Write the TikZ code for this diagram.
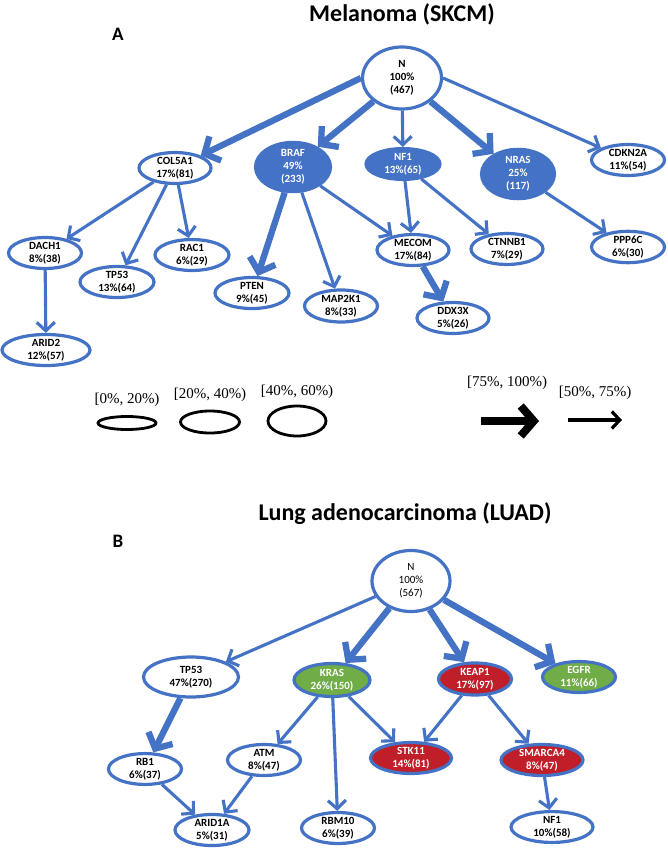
\documentclass[tikz,border=0pt]{standalone}
\usepackage{fontspec}
\setmainfont{Carlito}
\newfontfamily\legfont{Liberation Serif}
\usetikzlibrary{shapes.geometric,arrows.meta}
\definecolor{ablue}{RGB}{68,114,196}
\definecolor{agreen}{RGB}{112,173,71}
\definecolor{ared}{RGB}{192,30,40}
\tikzset{
  gn/.style={ellipse, draw=ablue, line width=3.2pt, inner sep=0pt, align=center,
    font=\bfseries\fontsize{11}{13}\selectfont, text=black, fill=white},
  fb/.style={fill=ablue, text=white},
  fg/.style={fill=agreen, text=white},
  fr/.style={fill=ared, text=white},
  sz/.style 2 args={minimum width=#1pt, minimum height=#2pt},
  tarr/.style={draw=ablue, line width=3.1pt, -{Straight Barb[length=8.5pt,width=18pt]}},
  karr/.style={draw=ablue, line width=6.3pt, -{Straight Barb[length=12pt,width=27pt]}},
  legell/.style={ellipse, draw=black, line width=2.8pt, inner sep=0pt},
  legtxt/.style={font=\legfont\fontsize{15}{17}\selectfont},
  ttl/.style={font=\bfseries\fontsize{24}{28}\selectfont},
  lbl/.style={font=\bfseries\fontsize{19}{22}\selectfont}
}
\begin{document}
\begin{tikzpicture}[x=1pt,y=-1pt]
\useasboundingbox (0,0) rectangle (667,848);
% ---------- Panel A ----------
\node[ttl] (titleA) at (402,14) {Melanoma (SKCM)};
\node[lbl] (labA) at (118,34) {A};

\node[gn, sz={79}{62}] (aN) at (402,78) {N\\100\%\\(467)};
\node[gn, sz={72}{30}] (aCOL) at (175,168) {COL5A1\\17\%(81)};
\node[gn, fb, sz={75}{44}] (aBRAF) at (293,167) {BRAF\\49\%\\(233)};
\node[gn, fb, sz={74}{29}] (aNF1) at (403,164) {NF1\\13\%(65)};
\node[gn, fb, sz={73}{45}] (aNRAS) at (518,174) {NRAS\\25\%\\(117)};
\node[gn, sz={73}{27}] (aCDK) at (628,160) {CDKN2A\\11\%(54)};
\node[gn, sz={73}{30}] (aDACH) at (45,253) {DACH1\\8\%(38)};
\node[gn, sz={74}{31}] (aTP53) at (117,282) {TP53\\13\%(64)};
\node[gn, sz={74}{30}] (aRAC) at (192,255) {RAC1\\6\%(29)};
\node[gn, sz={74}{31}] (aPTEN) at (252,293) {PTEN\\9\%(45)};
\node[gn, sz={73}{32}] (aMAP) at (341,306) {MAP2K1\\8\%(33)};
\node[gn, sz={72}{27}] (aMEC) at (413,250) {MECOM\\17\%(84)};
\node[gn, sz={72}{29}] (aCTN) at (507,249) {CTNNB1\\7\%(29)};
\node[gn, sz={73}{30}] (aPPP) at (628,247) {PPP6C\\6\%(30)};
\node[gn, sz={72}{30}] (aDDX) at (453,318) {DDX3X\\5\%(26)};
\node[gn, sz={88}{31}] (aARID) at (46,350) {ARID2\\12\%(57)};

\draw[karr] (aN.west) -- (aCOL);
\draw[karr] (aN) -- (aBRAF);
\draw[tarr] (aN) -- (aNF1);
\draw[karr] (aN) -- (aNRAS);
\draw[tarr] (aN.east) -- (aCDK);
\draw[tarr] (aCOL) -- (aDACH);
\draw[tarr] (aCOL) -- (aTP53);
\draw[tarr] (aCOL) -- (aRAC);
\draw[karr] (aBRAF) -- (aPTEN);
\draw[tarr] (aBRAF) -- (aMAP);
\draw[tarr] (aBRAF) -- (aMEC);
\draw[tarr] (aNF1) -- (aMEC);
\draw[tarr] (aNF1) -- (aCTN);
\draw[tarr] (aNRAS) -- (aPPP);
\draw[karr] (aMEC) -- (aDDX);
\draw[tarr] (aDACH) -- (aARID);

% ---------- Legend ----------
\node[legtxt] (lt1) at (127,400) {[0\%, 20\%)};
\node[legtxt] (lt2) at (210,395) {[20\%, 40\%)};
\node[legtxt] (lt3) at (297,392) {[40\%, 60\%)};
\node[legtxt] (lt4) at (507,383) {[75\%, 100\%)};
\node[legtxt] (lt5) at (595,393) {[50\%, 75\%)};
\node[legell, minimum width=58pt, minimum height=13pt] (le1) at (127,423) {};
\node[legell, minimum width=59pt, minimum height=22pt] (le2) at (210,422) {};
\node[legell, minimum width=58pt, minimum height=30pt] (le3) at (297,421) {};
\coordinate (la1s) at (481,421);
\coordinate (la1e) at (539,421);
\coordinate (la2s) at (568,420);
\coordinate (la2e) at (622,420);
\draw[line width=8pt, -{Straight Barb[length=13pt,width=30pt]}] (la1s) -- (la1e);
\draw[line width=3.2pt, -{Straight Barb[length=8pt,width=17pt]}] (la2s) -- (la2e);

% ---------- Panel B ----------
\node[ttl] (titleB) at (405,514) {Lung adenocarcinoma (LUAD)};
\node[lbl] (labB) at (118,541) {B};

\node[gn, sz={78}{61}, font=\fontsize{11}{13}\selectfont] (bN) at (411,581) {N\\100\%\\(567)};
\node[gn, sz={95}{40}] (bTP53) at (191,677) {TP53\\47\%(270)};
\node[gn, fg, sz={76}{33}] (bKRAS) at (332,680) {KRAS\\26\%(150)};
\node[gn, fr, sz={73}{32}] (bKEAP) at (475,679) {KEAP1\\17\%(97)};
\node[gn, fg, sz={73}{30}] (bEGFR) at (579,677) {EGFR\\11\%(66)};
\node[gn, sz={73}{29}] (bRB1) at (145,769) {RB1\\6\%(37)};
\node[gn, sz={73}{31}] (bATM) at (264,760) {ATM\\8\%(47)};
\node[gn, fr, sz={81}{30}] (bSTK) at (411,758) {STK11\\14\%(81)};
\node[gn, fr, sz={82}{31}] (bSMA) at (542,760) {SMARCA4\\8\%(47)};
\node[gn, sz={74}{31}] (bARID) at (212,830) {ARID1A\\5\%(31)};
\node[gn, sz={73}{29}] (bRBM) at (338,828) {RBM10\\6\%(39)};
\node[gn, sz={82}{30}] (bNF1) at (552,827) {NF1\\10\%(58)};

\draw[tarr] (bN) -- (bTP53);
\draw[karr] (bN) -- (bKRAS);
\draw[karr] (bN) -- (bKEAP);
\draw[karr] (bN) -- (bEGFR);
\draw[karr] (bTP53) -- (bRB1);
\draw[tarr] (bKRAS) -- (bATM);
\draw[tarr] (bKRAS) -- (bRBM);
\draw[tarr] (bKRAS) -- (bSTK);
\draw[tarr] (bKEAP) -- (bSTK);
\draw[tarr] (bKEAP) -- (bSMA);
\draw[tarr] (bSMA) -- (bNF1);
\draw[tarr] (bRB1) -- (bARID);
\draw[tarr] (bATM) -- (bARID);
\end{tikzpicture}
\end{document}
